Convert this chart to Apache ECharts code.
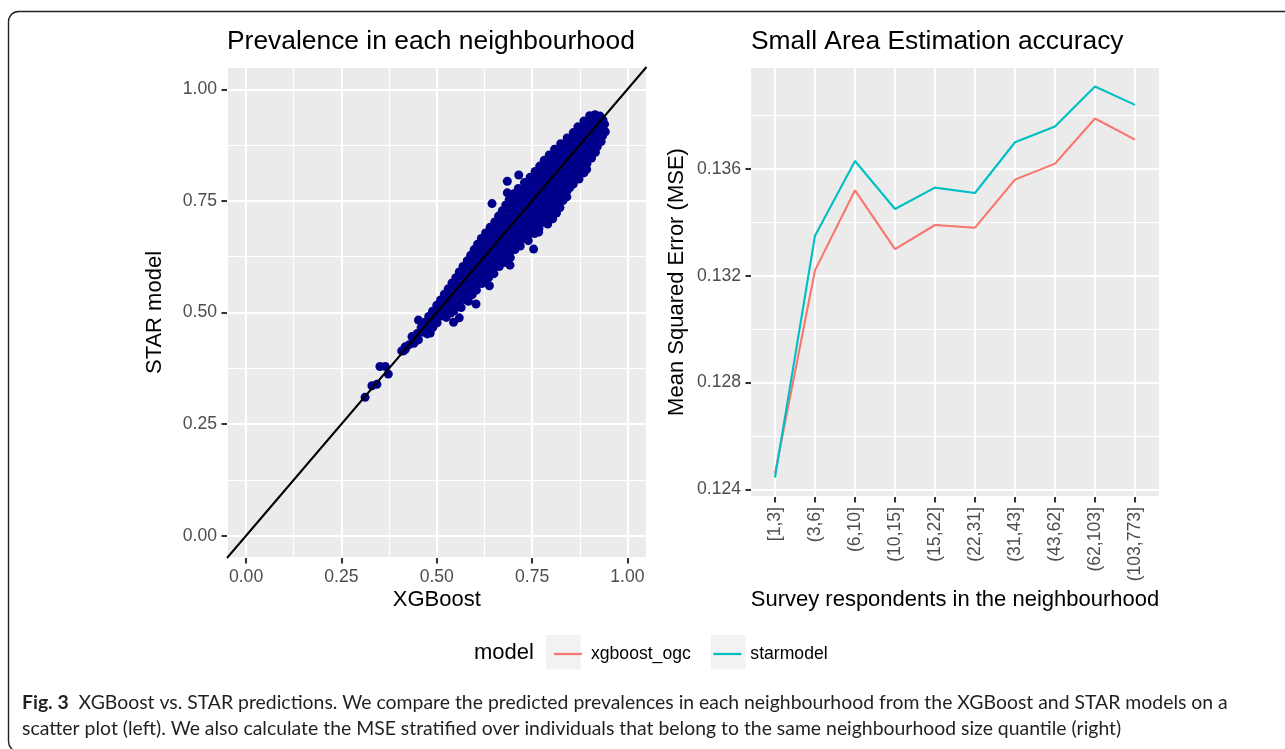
<!DOCTYPE html>
<html>
<head>
<meta charset="utf-8">
<title>XGBoost vs. STAR predictions</title>
<script src="https://cdn.jsdelivr.net/npm/echarts@6/dist/echarts.min.js"></script>
<style>
  html, body { margin: 0; padding: 0; background: #ffffff; }
  #chart { width: 1285px; height: 749px; }
</style>
</head>
<body>
<div id="chart"></div>
<script>
// ---------------------------------------------------------------------------
// Data
// ---------------------------------------------------------------------------

// Left panel: predicted prevalence per neighbourhood, [XGBoost, STAR model]
const prevalencePoints = [
  [0.901,0.941],[0.915,0.943],[0.928,0.940],[0.936,0.931],
  [0.886,0.929],[0.899,0.927],[0.913,0.930],[0.926,0.925],[0.940,0.922],
  [0.870,0.916],[0.885,0.914],[0.901,0.917],[0.917,0.913],[0.933,0.910],[0.942,0.905],
  [0.858,0.903],[0.873,0.905],[0.889,0.901],[0.905,0.904],[0.921,0.899],[0.935,0.896],
  [0.842,0.891],[0.857,0.888],[0.873,0.892],[0.889,0.889],[0.905,0.886],[0.920,0.889],[0.931,0.883],
  [0.825,0.878],[0.841,0.880],[0.857,0.876],[0.873,0.879],[0.889,0.874],[0.905,0.877],[0.921,0.872],
  [0.809,0.866],[0.824,0.863],[0.840,0.867],[0.856,0.864],[0.872,0.861],[0.888,0.866],[0.904,0.862],[0.916,0.859],
  [0.795,0.853],[0.811,0.851],[0.827,0.855],[0.843,0.852],[0.859,0.849],[0.875,0.854],[0.891,0.850],[0.906,0.846],
  [0.782,0.841],[0.798,0.838],[0.814,0.842],[0.830,0.839],[0.846,0.836],[0.862,0.841],[0.878,0.837],[0.894,0.834],
  [0.770,0.828],[0.786,0.830],[0.802,0.826],[0.818,0.829],[0.834,0.825],[0.850,0.828],[0.866,0.824],[0.882,0.827],[0.893,0.821],
  [0.758,0.816],[0.774,0.813],[0.790,0.817],[0.806,0.814],[0.822,0.811],[0.838,0.815],[0.854,0.812],[0.870,0.809],[0.886,0.813],
  [0.745,0.803],[0.761,0.806],[0.777,0.802],[0.793,0.800],[0.809,0.804],[0.825,0.801],[0.841,0.798],[0.857,0.802],[0.873,0.799],
  [0.730,0.791],[0.746,0.788],[0.762,0.792],[0.778,0.789],[0.794,0.786],[0.810,0.790],[0.826,0.787],[0.842,0.784],[0.858,0.788],
  [0.714,0.778],[0.730,0.781],[0.746,0.777],[0.762,0.774],[0.778,0.779],[0.794,0.775],[0.810,0.772],[0.826,0.776],[0.842,0.773],[0.849,0.780],
  [0.702,0.766],[0.718,0.763],[0.734,0.767],[0.750,0.764],[0.766,0.761],[0.782,0.765],[0.798,0.762],[0.814,0.766],[0.830,0.763],[0.841,0.759],
  [0.690,0.753],[0.706,0.755],[0.722,0.751],[0.738,0.754],[0.754,0.750],[0.770,0.753],[0.786,0.749],[0.802,0.752],[0.818,0.748],[0.831,0.751],
  [0.681,0.741],[0.697,0.738],[0.713,0.742],[0.729,0.739],[0.745,0.736],[0.761,0.740],[0.777,0.737],[0.793,0.741],[0.809,0.738],[0.823,0.735],
  [0.672,0.728],[0.688,0.731],[0.704,0.727],[0.720,0.724],[0.736,0.729],[0.752,0.725],[0.768,0.728],[0.784,0.724],[0.800,0.727],[0.814,0.723],
  [0.662,0.716],[0.678,0.713],[0.694,0.717],[0.710,0.714],[0.726,0.711],[0.742,0.715],[0.758,0.712],[0.774,0.716],[0.790,0.713],[0.804,0.710],
  [0.652,0.703],[0.668,0.706],[0.684,0.702],[0.700,0.699],[0.716,0.704],[0.732,0.700],[0.748,0.703],[0.764,0.699],[0.780,0.702],[0.791,0.698],
  [0.640,0.691],[0.656,0.688],[0.672,0.692],[0.688,0.689],[0.704,0.686],[0.720,0.690],[0.736,0.687],[0.752,0.691],[0.768,0.688],
  [0.628,0.678],[0.644,0.681],[0.660,0.677],[0.676,0.674],[0.692,0.679],[0.708,0.675],[0.724,0.678],[0.740,0.674],[0.756,0.677],
  [0.617,0.666],[0.633,0.663],[0.649,0.667],[0.665,0.664],[0.681,0.661],[0.697,0.665],[0.713,0.662],[0.729,0.666],[0.740,0.661],
  [0.607,0.653],[0.623,0.656],[0.639,0.652],[0.655,0.649],[0.671,0.654],[0.687,0.650],[0.703,0.653],[0.719,0.649],
  [0.598,0.641],[0.614,0.638],[0.630,0.642],[0.646,0.639],[0.662,0.636],[0.678,0.640],[0.694,0.637],[0.705,0.641],
  [0.589,0.628],[0.605,0.631],[0.621,0.627],[0.637,0.624],[0.653,0.629],[0.669,0.625],[0.685,0.628],[0.693,0.623],
  [0.580,0.616],[0.596,0.613],[0.612,0.617],[0.628,0.614],[0.644,0.611],[0.660,0.615],[0.676,0.612],
  [0.569,0.603],[0.585,0.606],[0.601,0.602],[0.617,0.599],[0.633,0.604],[0.649,0.600],[0.664,0.603],
  [0.559,0.591],[0.575,0.588],[0.591,0.592],[0.607,0.589],[0.623,0.586],[0.639,0.590],[0.650,0.587],
  [0.550,0.578],[0.566,0.581],[0.582,0.577],[0.598,0.574],[0.614,0.579],[0.630,0.575],[0.636,0.578],
  [0.540,0.566],[0.556,0.563],[0.572,0.567],[0.588,0.564],[0.604,0.561],[0.618,0.565],
  [0.530,0.553],[0.546,0.556],[0.562,0.552],[0.578,0.549],[0.594,0.554],[0.604,0.550],
  [0.520,0.541],[0.536,0.538],[0.552,0.542],[0.568,0.539],[0.584,0.536],[0.593,0.540],
  [0.510,0.528],[0.526,0.531],[0.542,0.527],[0.558,0.524],[0.574,0.529],[0.583,0.525],
  [0.500,0.516],[0.516,0.513],[0.532,0.517],[0.548,0.514],[0.564,0.511],
  [0.489,0.503],[0.505,0.506],[0.521,0.502],[0.537,0.499],[0.545,0.504],
  [0.479,0.491],[0.495,0.488],[0.511,0.492],[0.525,0.489],
  [0.469,0.478],[0.485,0.481],[0.501,0.477],
  [0.459,0.466],[0.475,0.463],[0.490,0.467],
  [0.449,0.453],[0.463,0.456],[0.475,0.452],
  [0.438,0.441],[0.452,0.439],
  [0.428,0.428],[0.440,0.431],
  [0.413,0.414],[0.418,0.418],
  // scattered neighbourhoods away from the main cloud
  [0.685,0.794],[0.685,0.768],[0.715,0.808],[0.645,0.744],
  [0.754,0.642],[0.767,0.680],[0.692,0.606],[0.638,0.560],[0.603,0.519],
  [0.544,0.478],[0.559,0.488],[0.452,0.483],[0.483,0.454],
  [0.408,0.414],[0.417,0.423],[0.435,0.446],[0.443,0.435],
  [0.351,0.379],[0.365,0.379],[0.373,0.362],
  [0.330,0.336],[0.343,0.339],[0.312,0.310]
];

// Identity reference line (y = x) across the full panel range
const identityLine = [[-0.05, -0.05], [1.05, 1.05]];

// Right panel: MSE by neighbourhood size quantile
const sizeQuantiles = ['[1,3]', '(3,6]', '(6,10]', '(10,15]', '(15,22]',
                       '(22,31]', '(31,43]', '(43,62]', '(62,103]', '(103,773]'];
const mseXgboostOgc = [0.12459, 0.1322, 0.1352, 0.1330, 0.1339, 0.1338, 0.1356, 0.1362, 0.13789, 0.1371];
const mseStarModel  = [0.12444, 0.1335, 0.1363, 0.1345, 0.1353, 0.1351, 0.1370, 0.13759, 0.13909, 0.1384];

const modelNames = ['xgboost_ogc', 'starmodel'];
const modelColors = ['#F8766D', '#00BFC4'];

// ---------------------------------------------------------------------------
// Layout
// ---------------------------------------------------------------------------
const FONT = '"Liberation Sans", Arial, Helvetica, sans-serif';
const CAPTION_FONT = 'Lato, "Liberation Sans", sans-serif';
const CAPTION_SIZE = 19.4;

const leftPanel  = { x: 227, y: 67, w: 419.5, h: 491, min: -0.05, max: 1.05 };
const rightPanel = { x: 751, y: 67, w: 408,   h: 430, min: 0.12371, max: 0.13982 };

// sub-rectangle of a panel holding the labelled tick range [lo, hi]
function tickBoxX(p, lo, hi) {
  const r = p.max - p.min;
  return { left: p.x + (lo - p.min) / r * p.w, width: (hi - lo) / r * p.w };
}
function tickBoxY(p, lo, hi) {
  const r = p.max - p.min;
  return { top: p.y + (p.max - hi) / r * p.h, height: (hi - lo) / r * p.h };
}
const leftTickX = tickBoxX(leftPanel, 0, 1);
const leftTickY = tickBoxY(leftPanel, 0, 1);
const rightTickY = tickBoxY(rightPanel, 0.124, 0.136);

// discrete axis: 0.6 category widths of padding on each side
const catUnit = rightPanel.w / (sizeQuantiles.length - 1 + 1.2);
const rightLinesLeft = rightPanel.x + 0.6 * catUnit;
const rightLinesWidth = (sizeQuantiles.length - 1) * catUnit;

const GRID_MAJOR = { color: '#FFFFFF', width: 2.1 };
const GRID_MINOR = { color: '#FFFFFF', width: 1.1 };
const TICK = { show: true, inside: false, length: 5.5, lineStyle: { color: '#333333', width: 2.1 } };
const TICK_LABEL = { color: '#4D4D4D', fontSize: 17.6, fontFamily: FONT, margin: 10 };
const AXIS_TITLE = { color: '#000000', fontSize: 22, fontFamily: FONT };

const hiddenBits = {
  axisLine: { show: false, onZero: false },
  axisTick: { show: false },
  axisLabel: { show: false }
};

const chart = echarts.init(document.getElementById('chart'), null, { renderer: 'canvas', width: 1285, height: 749 });

const option = {
  animation: false,
  backgroundColor: '#FFFFFF',
  grid: [
    // 0: left panel background + marks
    { left: leftPanel.x, top: leftPanel.y, width: leftPanel.w, height: leftPanel.h,
      show: true, backgroundColor: '#EBEBEB', borderWidth: 0, containLabel: false, outerBoundsMode: 'none' },
    // 1: left panel tick labels
    { left: leftTickX.left, top: leftTickY.top, width: leftTickX.width, height: leftTickY.height,
      show: false, containLabel: false, outerBoundsMode: 'none' },
    // 2: right panel background
    { left: rightPanel.x, top: rightPanel.y, width: rightPanel.w, height: rightPanel.h,
      show: true, backgroundColor: '#EBEBEB', borderWidth: 0, containLabel: false, outerBoundsMode: 'none' },
    // 3: right panel lines (category positions)
    { left: rightLinesLeft, top: rightPanel.y, width: rightLinesWidth, height: rightPanel.h,
      show: false, containLabel: false, outerBoundsMode: 'none' },
    // 4: right panel y tick labels
    { left: rightPanel.x, top: rightTickY.top, width: rightPanel.w, height: rightTickY.height,
      show: false, containLabel: false, outerBoundsMode: 'none' }
  ],
  xAxis: [
    Object.assign({
      gridIndex: 0, type: 'value', min: leftPanel.min, max: leftPanel.max,
      minInterval: 0.25, maxInterval: 0.25,
      splitLine: { show: true, lineStyle: GRID_MAJOR },
      minorTick: { show: false, splitNumber: 2 },
      minorSplitLine: { show: true, lineStyle: GRID_MINOR },
      name: 'XGBoost', nameLocation: 'middle', nameGap: 31, nameTextStyle: AXIS_TITLE
    }, hiddenBits),
    {
      gridIndex: 1, type: 'value', min: 0, max: 1, interval: 0.25,
      position: 'bottom', offset: (leftPanel.y + leftPanel.h) - (leftTickY.top + leftTickY.height),
      axisLine: { show: false, onZero: false }, axisTick: TICK,
      axisLabel: Object.assign({ formatter: v => v.toFixed(2) }, TICK_LABEL),
      splitLine: { show: false }
    },
    { gridIndex: 2, type: 'value', min: 0, max: 1, show: false },
    {
      gridIndex: 3, type: 'category', data: sizeQuantiles, boundaryGap: false,
      axisLine: { show: false, onZero: false },
      axisTick: Object.assign({ interval: 0 }, TICK),
      axisLabel: Object.assign({ interval: 0, rotate: 90 }, TICK_LABEL),
      splitLine: { show: true, interval: 0, lineStyle: GRID_MAJOR },
      name: 'Survey respondents in the neighbourhood', nameLocation: 'middle', nameGap: 92,
      nameTextStyle: AXIS_TITLE
    },
    { gridIndex: 4, type: 'value', min: 0, max: 1, show: false }
  ],
  yAxis: [
    Object.assign({
      gridIndex: 0, type: 'value', min: leftPanel.min, max: leftPanel.max,
      minInterval: 0.25, maxInterval: 0.25,
      splitLine: { show: true, lineStyle: GRID_MAJOR },
      minorTick: { show: false, splitNumber: 2 },
      minorSplitLine: { show: true, lineStyle: GRID_MINOR },
      name: 'STAR model', nameLocation: 'middle', nameGap: 61, nameRotate: 90, nameTextStyle: AXIS_TITLE
    }, hiddenBits),
    {
      gridIndex: 1, type: 'value', min: 0, max: 1, interval: 0.25,
      position: 'left', offset: leftTickX.left - leftPanel.x,
      axisLine: { show: false, onZero: false }, axisTick: TICK,
      axisLabel: Object.assign({ formatter: v => v.toFixed(2) }, TICK_LABEL),
      splitLine: { show: false }
    },
    Object.assign({
      gridIndex: 2, type: 'value', min: rightPanel.min, max: rightPanel.max,
      minInterval: 0.004, maxInterval: 0.004,
      splitLine: { show: true, lineStyle: GRID_MAJOR },
      minorTick: { show: false, splitNumber: 2 },
      minorSplitLine: { show: true, lineStyle: GRID_MINOR },
      name: 'Mean Squared Error (MSE)', nameLocation: 'middle', nameGap: 63, nameRotate: 90,
      nameTextStyle: AXIS_TITLE
    }, hiddenBits),
    { gridIndex: 3, type: 'value', min: rightPanel.min, max: rightPanel.max, show: false },
    {
      gridIndex: 4, type: 'value', min: 0.124, max: 0.136, interval: 0.004,
      position: 'left',
      axisLine: { show: false, onZero: false }, axisTick: TICK,
      axisLabel: Object.assign({ formatter: v => v.toFixed(3) }, TICK_LABEL),
      splitLine: { show: false }
    }
  ],
  legend: {
    data: modelNames,
    left: 549, top: 640,
    orient: 'horizontal',
    icon: 'rect', itemWidth: 28, itemHeight: 2.2, itemGap: 22.6,
    textStyle: { color: '#000000', fontSize: 17.6, fontFamily: FONT, padding: [0, 0, 0, 4] },
    selectedMode: false
  },
  series: [
    {
      type: 'scatter', name: 'prevalence', xAxisIndex: 0, yAxisIndex: 0,
      data: prevalencePoints, symbol: 'circle', symbolSize: 9,
      itemStyle: { color: '#00008B', opacity: 1 }, silent: true, z: 2
    },
    {
      type: 'line', name: 'identity', xAxisIndex: 0, yAxisIndex: 0,
      data: identityLine, showSymbol: false, symbol: 'none', clip: true,
      lineStyle: { color: '#000000', width: 2 }, silent: true, z: 3
    },
    {
      type: 'line', name: modelNames[0], xAxisIndex: 3, yAxisIndex: 3,
      data: mseXgboostOgc, showSymbol: false, symbol: 'none',
      itemStyle: { color: modelColors[0] },
      lineStyle: { color: modelColors[0], width: 2.1 }, z: 3
    },
    {
      type: 'line', name: modelNames[1], xAxisIndex: 3, yAxisIndex: 3,
      data: mseStarModel, showSymbol: false, symbol: 'none',
      itemStyle: { color: modelColors[1] },
      lineStyle: { color: modelColors[1], width: 2.1 }, z: 4
    }
  ],
  graphic: [
    // figure frame
    { type: 'rect', silent: true, z: -10,
      shape: { x: 8.5, y: 11.5, width: 1300, height: 740, r: 10 },
      style: { fill: 'none', stroke: '#231F20', lineWidth: 1.4 } },
    // panel titles
    { type: 'text', silent: true, x: leftPanel.x, y: 42,
      style: { text: 'Prevalence in each neighbourhood', fill: '#000000', fontSize: 26.4,
               fontFamily: FONT, align: 'left', verticalAlign: 'middle' } },
    { type: 'text', silent: true, x: rightPanel.x, y: 42,
      style: { text: 'Small Area Estimation accuracy', fill: '#000000', fontSize: 26.4,
               fontFamily: FONT, align: 'left', verticalAlign: 'middle' } },
    // legend title and key backgrounds
    { type: 'text', silent: true, x: 474, y: 653,
      style: { text: 'model', fill: '#000000', fontSize: 22, fontFamily: FONT,
               align: 'left', verticalAlign: 'middle' } },
    { type: 'rect', silent: true, z: 0, shape: { x: 546, y: 635, width: 34.5, height: 34.5 },
      style: { fill: '#F2F2F2' } },
    { type: 'rect', silent: true, z: 0, shape: { x: 711, y: 635, width: 34.5, height: 34.5 },
      style: { fill: '#F2F2F2' } },
    // caption
    { type: 'text', silent: true, x: 22, y: 703,
      style: {
        text: '{b|Fig. 3}  XGBoost vs. STAR predictions. We compare the predicted prevalences in each neighbourhood from the XGBoost and STAR models on a',
        fill: '#231F20', fontSize: CAPTION_SIZE, fontFamily: CAPTION_FONT, align: 'left', verticalAlign: 'middle',
        rich: { b: { fontWeight: 'bold', fontSize: CAPTION_SIZE, fontFamily: CAPTION_FONT, fill: '#231F20' } }
      } },
    { type: 'text', silent: true, x: 22, y: 729,
      style: {
        text: 'scatter plot (left). We also calculate the MSE stratified over individuals that belong to the same neighbourhood size quantile (right)',
        fill: '#231F20', fontSize: CAPTION_SIZE, fontFamily: CAPTION_FONT, align: 'left', verticalAlign: 'middle'
      } }
  ]
};

chart.setOption(option);
</script>
</body>
</html>
